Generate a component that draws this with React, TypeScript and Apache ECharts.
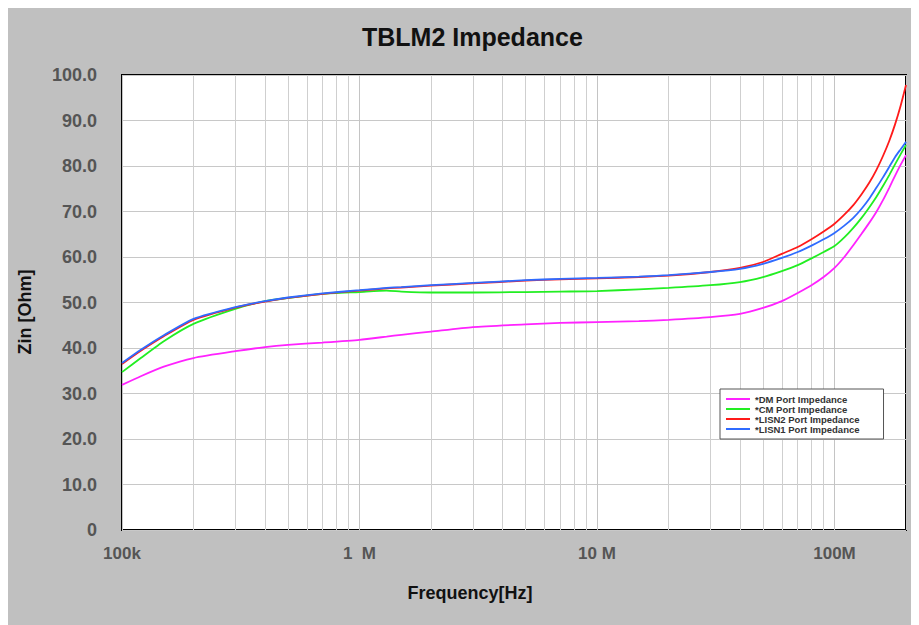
import React, { useEffect, useRef } from "react";
import * as echarts from "echarts";

const frequencies = [1e5, 1.2e5, 1.5e5, 2e5, 3e5, 4e5, 5e5, 7e5, 1e6, 1.3e6, 1.5e6, 2e6, 3e6, 5e6, 7e6, 1e7, 1.5e7, 2e7, 3e7, 4e7, 5e7, 6e7, 7e7, 8e7, 9e7, 1e8, 1.1e8, 1.2e8, 1.3e8, 1.4e8, 1.5e8, 1.6e8, 1.7e8, 1.8e8, 1.9e8, 2e8];
const dmValues = [31.9, 33.8, 35.9, 37.8, 39.3, 40.2, 40.7, 41.2, 41.8, 42.5, 42.9, 43.6, 44.6, 45.2, 45.5, 45.7, 45.9, 46.2, 46.8, 47.5, 48.8, 50.3, 52.1, 53.8, 55.6, 57.6, 60.0, 62.6, 65.1, 67.5, 69.9, 72.5, 75.2, 77.9, 80.3, 82.4];
const cmValues = [34.7, 37.8, 41.5, 45.3, 48.6, 50.3, 51.0, 51.9, 52.3, 52.6, 52.4, 52.2, 52.2, 52.3, 52.4, 52.5, 52.9, 53.2, 53.8, 54.5, 55.6, 56.9, 58.2, 59.7, 61.1, 62.4, 64.3, 66.4, 68.6, 70.9, 73.2, 75.6, 78.0, 80.4, 82.6, 84.6];
const lisn2Values = [36.5, 39.4, 42.6, 46.2, 48.9, 50.2, 51.0, 51.9, 52.6, 53.1, 53.3, 53.7, 54.2, 54.8, 55.1, 55.3, 55.6, 55.9, 56.7, 57.6, 58.9, 60.7, 62.2, 63.9, 65.6, 67.3, 69.3, 71.4, 73.8, 76.3, 79.1, 82.2, 85.5, 89.2, 93.3, 97.8];
const lisn1Values = [36.7, 39.6, 42.8, 46.4, 49.0, 50.3, 51.1, 52.0, 52.7, 53.2, 53.4, 53.8, 54.3, 54.9, 55.2, 55.4, 55.7, 56.0, 56.7, 57.4, 58.5, 59.8, 61.1, 62.5, 63.9, 65.3, 66.9, 68.6, 70.6, 72.8, 75.2, 77.5, 79.8, 82.0, 83.7, 85.3];

const seriesNames = ["*DM Port Impedance", "*CM Port Impedance", "*LISN2 Port Impedance", "*LISN1 Port Impedance"];
const seriesColors = ["#ff22ff", "#22ee22", "#ff1a1a", "#2f6bff"];
const xTickLabels: Record<string, string> = { "100000": "100k", "1000000": "1  M", "10000000": "10 M", "100000000": "100M" };
const minorGrid = [2e5, 3e5, 4e5, 5e5, 6e5, 7e5, 8e5, 9e5, 2e6, 3e6, 4e6, 5e6, 6e6, 7e6, 8e6, 9e6, 2e7, 3e7, 4e7, 5e7, 6e7, 7e7, 8e7, 9e7];
const titleText = "TBLM2 Impedance";
const xAxisName = "Frequency[Hz]";
const yAxisName = "Zin [Ohm]";

const FONT = "Arial, 'Liberation Sans', sans-serif";

export default function App() {
  const ref = useRef<HTMLDivElement>(null);
  useEffect(() => {
    if (!ref.current) return;
    const chart = echarts.init(ref.current, null, { renderer: "svg" });
    const valueSets = [dmValues, cmValues, lisn2Values, lisn1Values];
    const series: any[] = valueSets.map((vals, i) => ({
      name: seriesNames[i],
      type: "line",
      data: frequencies.map((f, j) => [f, vals[j]]),
      showSymbol: false,
      symbol: "none",
      smooth: 0.2,
      lineStyle: { color: seriesColors[i], width: 1.8 },
      itemStyle: { color: seriesColors[i] },
      z: 3 + i,
    }));
    series[0].markLine = {
      silent: true,
      symbol: ["none", "none"],
      label: { show: false },
      lineStyle: { color: "#cfcfcf", width: 1, type: "solid" },
      z: 1,
      data: minorGrid.map((v) => ({ xAxis: v })),
    };
    chart.setOption({
      animation: false,
      backgroundColor: "#c0c0c0",
      title: {
        text: titleText,
        left: 463 - 114,
        top: 11,
        textStyle: { fontFamily: FONT, fontSize: 25, fontWeight: "bold", color: "#111" },
      },
      graphic: [
        {
          type: "text",
          x: 462,
          y: 585,
          style: {
            text: xAxisName,
            fontFamily: FONT,
            fontSize: 18,
            fontWeight: "bold",
            fill: "#111",
            textAlign: "center",
            textVerticalAlign: "middle",
          },
        },
        {
          type: "text",
          x: 17,
          y: 304,
          rotation: Math.PI / 2,
          style: {
            text: yAxisName,
            fontFamily: FONT,
            fontSize: 18,
            fontWeight: "bold",
            fill: "#111",
            textAlign: "center",
            textVerticalAlign: "middle",
          },
        },
      ],
      legend: {
        orient: "vertical",
        left: 712,
        top: 381,
        backgroundColor: "#fff",
        borderColor: "#555",
        borderWidth: 1,
        padding: [5, 24, 5, 6],
        itemGap: 0,
        itemWidth: 24,
        itemHeight: 2,
        icon: "rect",
        textStyle: { fontFamily: FONT, fontSize: 9.5, fontWeight: "bold", color: "#333" },
        data: seriesNames,
      },
      grid: {
        left: 114,
        top: 67,
        right: 13,
        bottom: 95,
        show: true,
        backgroundColor: "#fff",
        borderColor: "#000",
        borderWidth: 2,
        containLabel: false,
      },
      xAxis: {
        type: "log",
        logBase: 10,
        min: 1e5,
        max: 2e8,
        axisLine: { show: false },
        axisTick: { show: false },
        axisLabel: {
          margin: 15,
          fontFamily: FONT,
          fontSize: 17,
          fontWeight: "bold",
          color: "#555",
          showMaxLabel: false,
          formatter: (v: number) => xTickLabels[String(Math.round(v))] ?? "",
        },
        splitLine: { show: true, lineStyle: { color: "#c4c4c4", width: 1 } },
      },
      yAxis: {
        type: "value",
        min: 0,
        max: 100,
        interval: 10,
        axisLine: { show: false },
        axisTick: { show: false },
        axisLabel: {
          margin: 25,
          fontFamily: FONT,
          fontSize: 18,
          fontWeight: "bold",
          color: "#555",
          formatter: (v: number) => (v === 0 ? "0" : v.toFixed(1)),
        },
        splitLine: { show: true, lineStyle: { color: "#c8c8c8", width: 1 } },
      },
      series,
    });
    return () => chart.dispose();
  }, []);
  return <div ref={ref} style={{ width: 911, height: 617 }} />;
}
